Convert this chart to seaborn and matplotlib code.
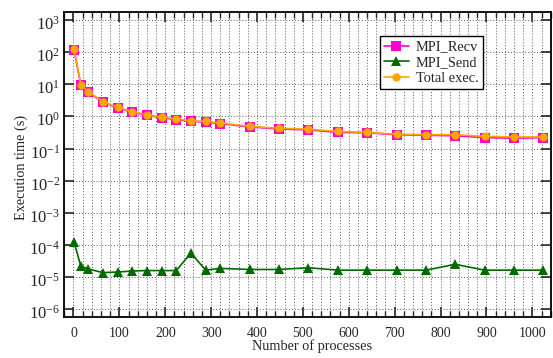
import matplotlib
matplotlib.use("Agg")
import matplotlib.pyplot as plt
import matplotlib.transforms as mtransforms
import seaborn as sns
import numpy as np
from matplotlib.ticker import MultipleLocator, FixedLocator, NullLocator

# data
procs = [1, 16, 32, 64, 96, 128, 160, 192, 224, 256, 288, 320,
         384, 448, 512, 576, 640, 704, 768, 832, 896, 960, 1024]
total_exec = [130, 9.8, 5.9, 2.9, 1.93, 1.41, 1.12, 0.95, 0.83, 0.73, 0.70, 0.63,
              0.49, 0.43, 0.40, 0.34, 0.32, 0.28, 0.27, 0.27, 0.24, 0.23, 0.23]
mpi_recv = [120, 9.4, 5.6, 2.8, 1.85, 1.35, 1.08, 0.91, 0.80, 0.70, 0.67, 0.60,
            0.47, 0.41, 0.38, 0.32, 0.31, 0.27, 0.26, 0.25, 0.22, 0.21, 0.22]
mpi_send = [1.26e-4, 2.2e-5, 1.8e-5, 1.38e-5, 1.44e-5, 1.55e-5, 1.6e-5, 1.6e-5, 1.6e-5,
            5.6e-5, 1.65e-5, 1.87e-5, 1.73e-5, 1.73e-5, 1.96e-5, 1.65e-5, 1.65e-5,
            1.65e-5, 1.65e-5, 2.5e-5, 1.65e-5, 1.65e-5, 1.65e-5]
x_ticks = list(range(0, 1001, 100))
y_ticks = [10.0 ** k for k in range(-6, 4)]

sns.set_style("ticks")
plt.rcParams['font.family'] = ['Liberation Serif', 'DejaVu Serif']
plt.rcParams['mathtext.fontset'] = 'custom'
plt.rcParams['mathtext.rm'] = 'Liberation Serif'
plt.rcParams['mathtext.it'] = 'Liberation Serif:italic'
plt.rcParams['mathtext.default'] = 'regular'

fig = plt.figure(figsize=(5.53, 3.58), dpi=100)
ax = fig.add_axes([0.1163, 0.1137, 0.8795, 0.8528])

sns.lineplot(x=procs, y=mpi_recv, ax=ax, color='#ff00cc', marker='s', markersize=7.5,
             markeredgewidth=0, linewidth=1.2, label='MPI_Recv')
sns.lineplot(x=procs, y=mpi_send, ax=ax, color='#006a00', marker='^', markersize=7,
             markeredgewidth=0, linewidth=1.2, label='MPI_Send')
sns.lineplot(x=procs, y=total_exec, ax=ax, color='#ffa500', marker='o', markersize=6,
             markeredgewidth=0, linewidth=1.2, label='Total exec.')

ax.set_yscale('log')
ax.set_xlim(-20, 1040)
ax.set_ylim(10**-6.25, 10**3.25)

ax.xaxis.set_major_locator(FixedLocator(x_ticks))
ax.xaxis.set_minor_locator(MultipleLocator(20))
ax.set_yticks(y_ticks)
ax.yaxis.set_minor_locator(NullLocator())

ax.tick_params(axis='both', which='major', direction='in', length=7, width=1.2,
               top=True, right=True)
ax.tick_params(axis='x', which='major', labelsize=10, pad=7)
ax.tick_params(axis='y', which='major', labelsize=12, pad=3)
ax.tick_params(axis='x', which='minor', direction='in', length=4, width=1,
               top=True, bottom=True)

# nudge y tick labels down a bit, like the reference
offset = mtransforms.ScaledTranslation(0, -2 / 72, fig.dpi_scale_trans)
for lbl in ax.get_yticklabels():
    lbl.set_transform(lbl.get_transform() + offset)

ax.grid(True, which='both', axis='x', linestyle=(0, (1, 2)), color='0.35', linewidth=0.7)
ax.grid(True, which='major', axis='y', linestyle=(0, (1, 2)), color='0.35', linewidth=0.7)

for s in ax.spines.values():
    s.set_linewidth(1.3)
    s.set_color('black')

ax.set_xlabel('Number of processes', fontsize=10.3)
ax.set_ylabel('Execution time (s)', fontsize=10.3)
ax.xaxis.set_label_coords(0.51, -0.072)
ax.yaxis.set_label_coords(-0.074, 0.49)

leg = ax.legend(loc='upper right', bbox_to_anchor=(0.861, 0.921), fontsize=10.4,
                frameon=True, fancybox=False, edgecolor='black', framealpha=1,
                handlelength=1.7, borderpad=0.3, labelspacing=0.18, handletextpad=0.5,
                borderaxespad=0)
leg.get_frame().set_linewidth(1.0)

fig.savefig('out.png', dpi=100)
